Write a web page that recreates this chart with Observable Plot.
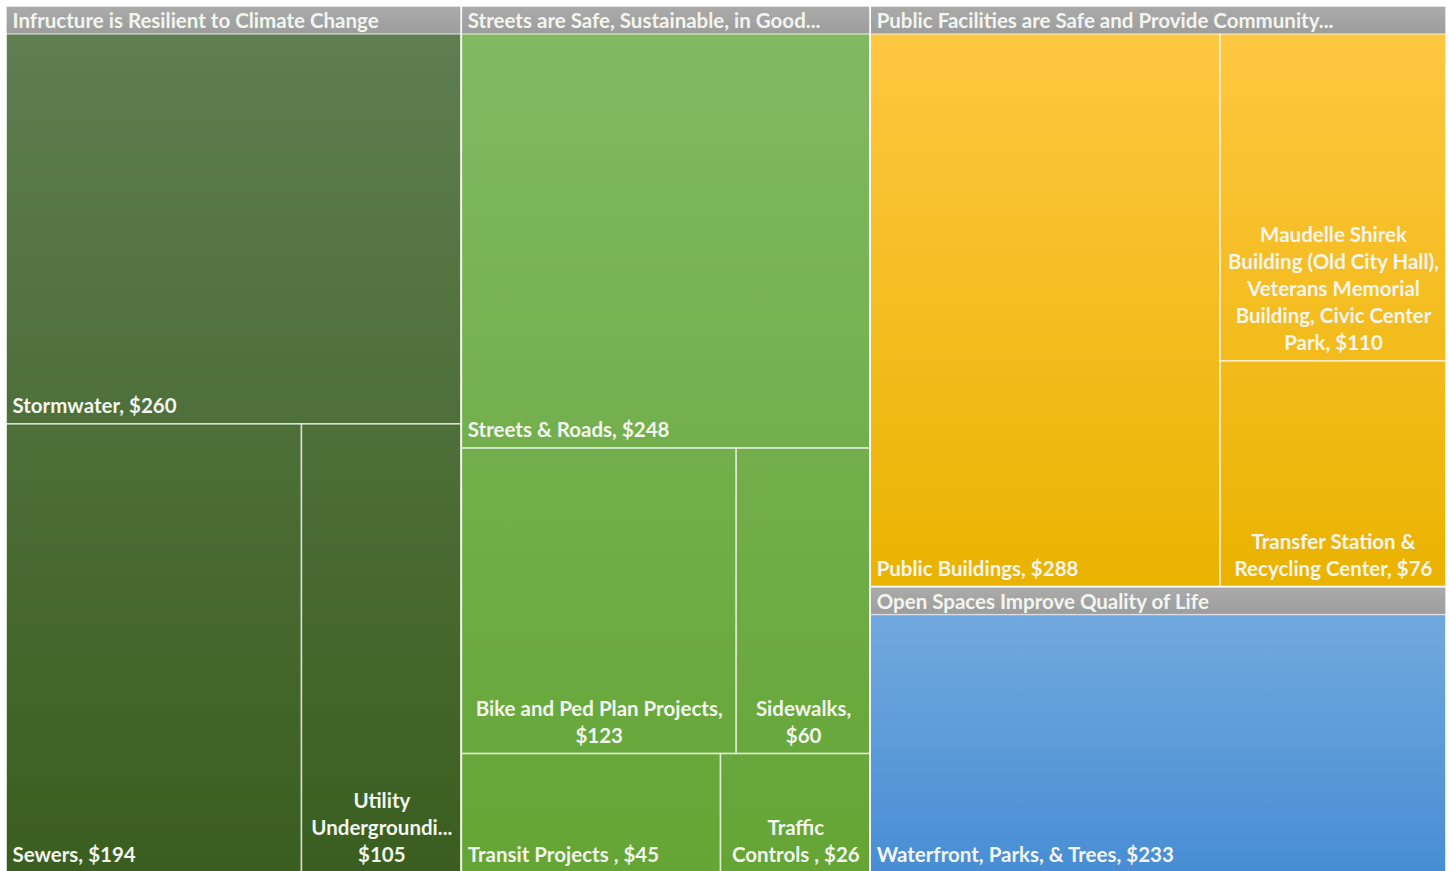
<!DOCTYPE html>
<html>
<head>
<meta charset="utf-8">
<script src="https://cdn.jsdelivr.net/npm/d3@7"></script>
<script src="https://cdn.jsdelivr.net/npm/@observablehq/plot@0.6"></script>
<style>
  html, body { margin: 0; padding: 0; background: #ffffff; }
  #chart svg { display: block; }
</style>
</head>
<body>
<div id="chart"></div>
<script>
// ---- Data ----
const groupNames = [
  "Infructure is Resilient to Climate Change",
  "Streets are Safe, Sustainable, in Good...",
  "Public Facilities are Safe and Provide Community...",
  "Open Spaces Improve Quality of Life"
];
const groupTop = ["#5e7e50", "#81b963", "#fec741", "#71a9de"];
const groupBottom = ["#3a5e1f", "#64a535", "#eab300", "#488dd4"];

const itemNames = [
  "Stormwater", "Sewers", "Utility Undergrounding",
  "Streets & Roads", "Bike and Ped Plan Projects", "Sidewalks", "Transit Projects", "Traffic Controls",
  "Public Buildings", "Maudelle Shirek Building (Old City Hall), Veterans Memorial Building, Civic Center Park", "Transfer Station & Recycling Center",
  "Waterfront, Parks, & Trees"
];
const itemGroups = [0, 0, 0, 1, 1, 1, 1, 1, 2, 2, 2, 3];
const itemValues = [260, 194, 105, 248, 123, 60, 45, 26, 288, 110, 76, 233];
const itemLabels = [
  "Stormwater, $260",
  "Sewers, $194",
  "Utility\nUndergroundi...\n$105",
  "Streets & Roads, $248",
  "Bike and Ped Plan Projects,\n$123",
  "Sidewalks,\n$60",
  "Transit Projects , $45",
  "Traffic\nControls , $26",
  "Public Buildings, $288",
  "Maudelle Shirek\nBuilding (Old City Hall),\nVeterans Memorial\nBuilding, Civic Center\nPark, $110",
  "Transfer Station &\nRecycling Center, $76",
  "Waterfront, Parks, & Trees, $233"
];

// strips per parent (number of children per strip), default one per strip
const stripCounts = { "Streets are Safe, Sustainable, in Good...": [1, 2, 1, 1] };

// ---- Layout (d3 treemap with Excel-like strip tiling) ----
const W = 1449, H = 871, HEADER = 28;
const rootData = {
  name: "root",
  children: groupNames.map((g, gi) => ({
    name: g, gi,
    children: itemNames.map((n, i) => ({ name: n, i, value: itemValues[i] })).filter(d => itemGroups[d.i] === gi)
  }))
};

function stripTile(node, x0, y0, x1, y1) {
  const kids = node.children;
  const counts = stripCounts[node.data.name] || kids.map(() => 1);
  let k = 0, value = node.value;
  for (const c of counts) {
    if (k >= kids.length) break;
    const row = kids.slice(k, k + c); k += c;
    const s = d3.sum(row, d => d.value);
    const dx = x1 - x0, dy = y1 - y0;
    const r = { value: s, children: row };
    if (dx < dy) {
      const ny = value ? y0 + dy * s / value : y1;
      d3.treemapDice(r, x0, y0, x1, ny); y0 = ny;
    } else {
      const nx = value ? x0 + dx * s / value : x1;
      d3.treemapSlice(r, x0, y0, nx, y1); x0 = nx;
    }
    value -= s;
  }
}

const root = d3.treemap()
  .size([W, H + 1])
  .tile(stripTile)
  .paddingTop(d => d.depth === 0 ? 6 : HEADER)
  .paddingLeft(d => d.depth === 0 ? 6 : 0)
  .paddingRight(d => d.depth === 0 ? 3 : 0)
  (d3.hierarchy(rootData).sum(d => d.value || 0));

const groups = root.children.map(n => ({
  name: n.data.name, gi: n.data.gi,
  x0: n.x0, x1: n.x1, y0: n.y0, y1: n.y1,
  grad: `url(#grad${n.data.gi})`
}));
const cells = root.leaves().map(n => ({
  label: itemLabels[n.data.i],
  multi: itemLabels[n.data.i].includes("\n"),
  x0: n.x0, x1: n.x1, y0: n.y0, y1: n.y1
}));

const defsMark = () => {
  const defs = d3.create("svg:defs");
  groupNames.forEach((g, i) => {
    const lg = defs.append("linearGradient").attr("id", `grad${i}`)
      .attr("x1", 0).attr("y1", 0).attr("x2", 0).attr("y2", 1);
    lg.append("stop").attr("offset", "0%").attr("stop-color", groupTop[i]);
    lg.append("stop").attr("offset", "100%").attr("stop-color", groupBottom[i]);
  });
  const hg = defs.append("linearGradient").attr("id", "hdr")
    .attr("x1", 0).attr("y1", 0).attr("x2", 0).attr("y2", 1);
  hg.append("stop").attr("offset", "0%").attr("stop-color", "#ababab");
  hg.append("stop").attr("offset", "100%").attr("stop-color", "#9d9d9d");
  return defs.node();
};

const font = "Lato, 'Open Sans', sans-serif";
const textColor = "#f3f5ef";
const FS = 20.5;

const chart = Plot.plot({
  width: W, height: H, margin: 0,
  style: { background: "#ffffff" },
  x: { domain: [0, W], range: [0, W], axis: null },
  y: { domain: [0, H], range: [0, H], axis: null },
  color: { type: "identity" },
  marks: [
    defsMark,
    Plot.rect(groups, { x1: "x0", x2: "x1", y1: d => d.y0 + HEADER, y2: "y1", fill: "grad" }),
    Plot.rect(groups, { x1: "x0", x2: "x1", y1: "y0", y2: d => d.y0 + HEADER, fill: "url(#hdr)" }),
    Plot.rect(cells, { x1: "x0", x2: "x1", y1: "y0", y2: "y1", fill: "none", stroke: "rgba(255,255,255,0.55)", strokeWidth: 1.5 }),
    Plot.rect(groups, { x1: "x0", x2: "x1", y1: "y0", y2: "y1", fill: "none", stroke: "rgba(255,255,255,0.85)", strokeWidth: 1.5 }),
    Plot.text(groups, { x: d => d.x0 + 6, y: d => d.y0 + HEADER / 2 + 1, text: "name", textAnchor: "start", lineAnchor: "middle",
      fill: textColor, fontFamily: font, fontWeight: "bold", fontSize: FS }),
    Plot.text(cells.filter(d => !d.multi), { x: d => d.x0 + 6, y: d => d.y1 - 11, text: "label", textAnchor: "start", lineAnchor: "bottom",
      fill: textColor, fontFamily: font, fontWeight: "bold", fontSize: FS }),
    Plot.text(cells.filter(d => d.multi), { x: d => (d.x0 + d.x1) / 2, y: d => d.y1 - 11, text: "label", textAnchor: "middle", lineAnchor: "bottom",
      lineHeight: 27 / FS, fill: textColor, fontFamily: font, fontWeight: "bold", fontSize: FS })
  ]
});
document.getElementById("chart").appendChild(chart);
</script>
</body>
</html>
